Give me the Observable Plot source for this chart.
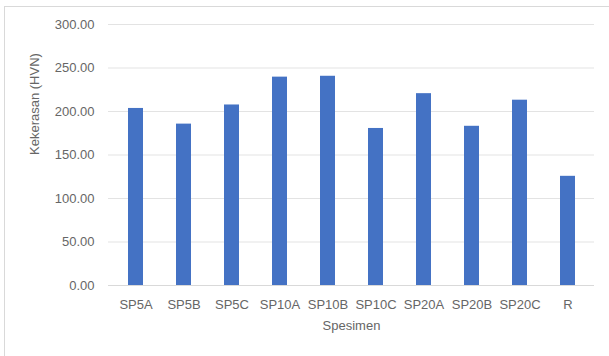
<!DOCTYPE html>
<html>
<head>
<meta charset="utf-8">
<script src="https://cdn.jsdelivr.net/npm/d3@7"></script>
<script src="https://cdn.jsdelivr.net/npm/@observablehq/plot@0.6"></script>
<style>
  html, body { margin: 0; padding: 0; background: #fff; }
  #wrap { position: relative; width: 609px; height: 356px; overflow: hidden; }
  #border { position: absolute; left: 4px; top: 6px; width: 700px; height: 400px;
            border: 1px solid #d9d9d9; box-sizing: border-box; }
  #chart { position: absolute; left: 0; top: 0; }
  #chart svg { font-family: "Liberation Sans", Arial, sans-serif; }
</style>
</head>
<body>
<div id="wrap"><div id="border"></div><div id="chart"></div></div>
<script>
// Hardness per specimen
const specimens = ["SP5A", "SP5B", "SP5C", "SP10A", "SP10B", "SP10C", "SP20A", "SP20B", "SP20C", "R"];
const hardness = [203.5, 185.5, 207.5, 239.5, 240.5, 180.5, 220.5, 183, 213, 125.5];
const yTicks = [0, 50, 100, 150, 200, 250, 300];
const xTitle = "Spesimen";
const yTitle = "Kekerasan (HVN)";

const data = specimens.map((s, i) => ({specimen: s, value: hardness[i]}));
const textColor = "#666666";

const chart = Plot.plot({
  width: 609,
  height: 356,
  marginLeft: 108,
  marginRight: 15,
  marginTop: 24,
  marginBottom: 71,
  style: {background: "transparent", color: textColor, fontSize: "13px"},
  x: {domain: specimens, paddingInner: 0.69, paddingOuter: 0.345, label: null},
  y: {domain: [0, 300], label: null},
  marks: [
    Plot.gridY(yTicks.filter(d => d > 0), {stroke: "#e3e3e3", strokeOpacity: 1, strokeWidth: 1}),
    Plot.ruleY([0], {stroke: "#d9d9d9", strokeWidth: 1}),
    Plot.barY(data, {x: "specimen", y: "value", fill: "#4472C4"}),
    Plot.axisY(yTicks, {tickSize: 0, tickPadding: 14, tickFormat: d => d.toFixed(2), fill: textColor, label: null}),
    Plot.axisX({tickSize: 0, tickPadding: 14, fill: textColor, label: null}),
    Plot.text([yTitle], {frameAnchor: "left", dx: -74, rotate: -90, fill: textColor, fontSize: 13}),
    Plot.text([xTitle], {frameAnchor: "bottom", dy: 44, fill: textColor, fontSize: 13})
  ]
});
document.getElementById("chart").appendChild(chart);
</script>
</body>
</html>
